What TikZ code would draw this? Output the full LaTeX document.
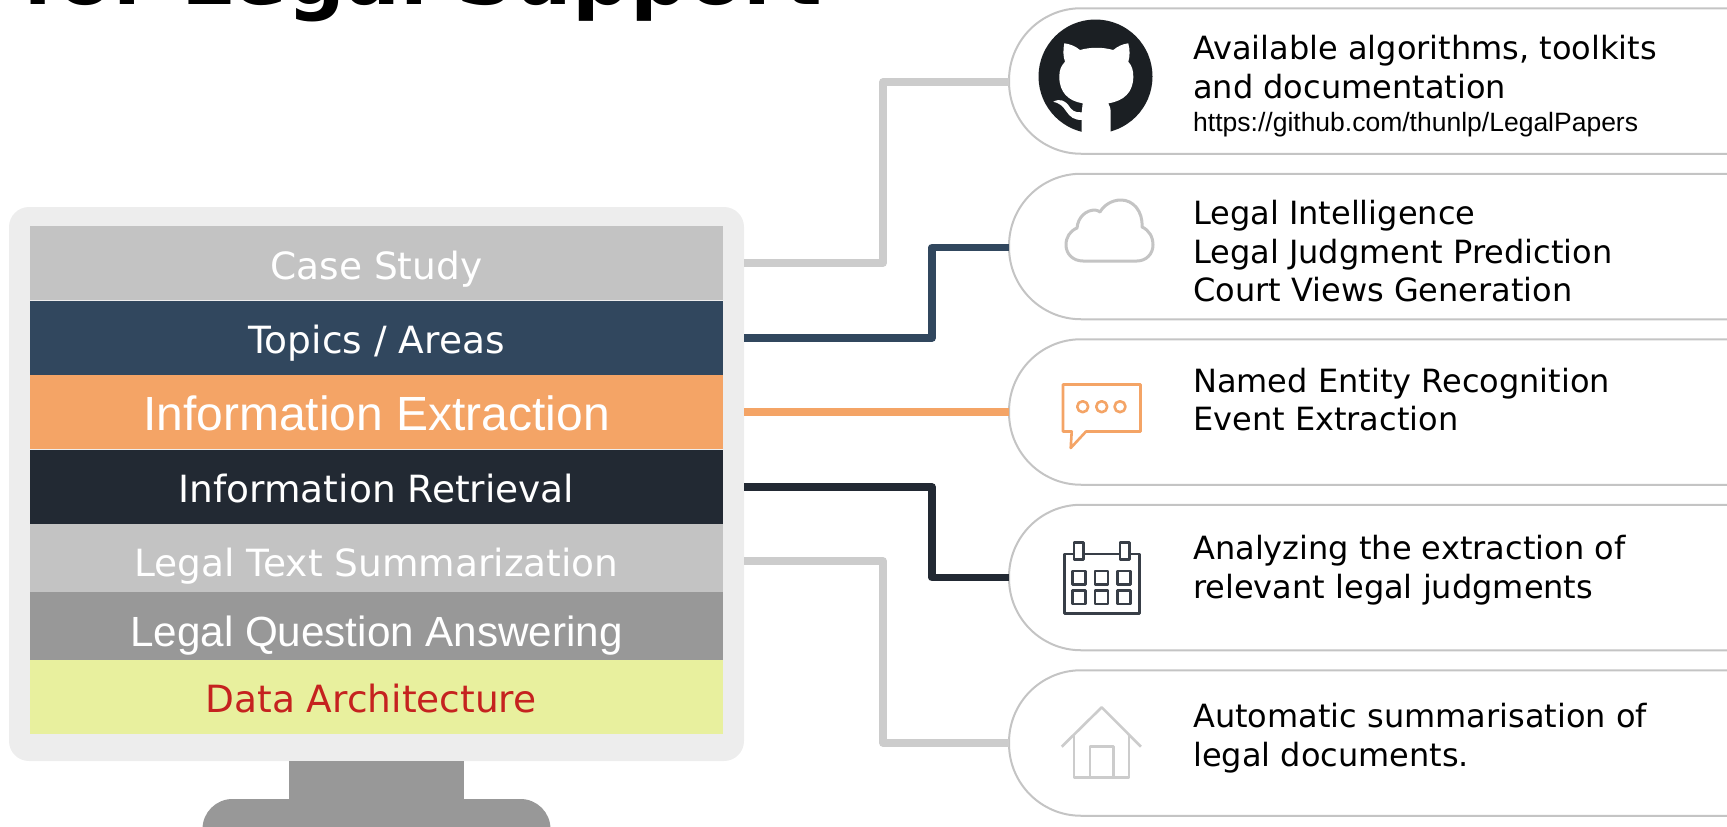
\documentclass[tikz,border=0pt]{standalone}
\usepackage{fontspec}
\usepackage{tikz}
\usetikzlibrary{positioning}
\setmainfont{DejaVu Sans}
\newfontfamily\arialfont{Liberation Sans}
\definecolor{rowgrey}{HTML}{C3C3C3}
\definecolor{rowblue}{HTML}{31475E}
\definecolor{roworange}{HTML}{F4A466}
\definecolor{rowdark}{HTML}{222933}
\definecolor{rowmid}{HTML}{989898}
\definecolor{rowlime}{HTML}{E8F09E}
\definecolor{rowred}{HTML}{C5221F}
\definecolor{bezelgrey}{HTML}{EDEDED}
\definecolor{pillgrey}{HTML}{C4C4C4}
\definecolor{wiregrey}{HTML}{CCCCCC}
\definecolor{catdark}{HTML}{1B1F23}

\begin{document}
\begin{tikzpicture}[x=1pt, y=-1pt, node distance=0pt, line join=round]
    % Styles
    \tikzstyle{rowbox}=[rectangle, inner sep=0pt, outer sep=0pt, minimum width=693pt, text=white, text depth=0pt, font=\fontsize{37.5}{44}\selectfont]
    \tikzstyle{arialrow}=[rowbox, font=\arialfont\fontsize{48}{56}\selectfont]
    \tikzstyle{pillbox}=[rectangle, draw=pillgrey, line width=2pt, outer sep=0pt, fill=white, rounded corners=72pt, minimum width=800pt, minimum height=145.5pt, anchor=west]
    \tikzstyle{itemtext}=[anchor=north west, inner sep=0pt, align=left, font=\fontsize{32}{38.5}\selectfont]
    \tikzstyle{wire}=[line width=7.5pt]
    \tikzstyle{standbox}=[rectangle, fill=rowmid, inner sep=0pt, outer sep=0pt]
    \tikzstyle{iconline}=[line width=2.6pt]

    \useasboundingbox (0,0) rectangle (1727,827);
    \clip (0,0) rectangle (1727,827);

    % Title, cut by the top edge
    \node (title) [anchor=base west, inner sep=0pt, font=\bfseries\fontsize{81}{96}\selectfont] at (22,4.5) {for Legal Support};

    % Monitor
    \node (bezel) [rectangle, fill=bezelgrey, outer sep=0pt, rounded corners=20pt, minimum width=735pt, minimum height=554pt] at (376.5,484) {};
    \node (neck) [standbox, minimum width=175pt, minimum height=38pt, below=of bezel] {};
    \node (foot) [standbox, rounded corners=30pt, minimum width=348pt, minimum height=100pt, below=of neck] {};

    % Rows of the screen
    \node (caseRow) [rowbox, fill=rowgrey, minimum height=74pt, text height=32pt] at (376.5,263) {Case Study};
    \node (topicRow) [rowbox, fill=rowblue, minimum height=74pt, text height=30.4pt, below=1pt of caseRow] {Topics / Areas};
    \node (extractRow) [arialrow, fill=roworange, minimum height=74pt, text height=37.5pt, below=of topicRow] {Information Extraction};
    \node (retrieveRow) [rowbox, fill=rowdark, minimum height=74pt, text height=30.4pt, below=1pt of extractRow] {Information Retrieval};
    \node (summaryRow) [rowbox, fill=rowgrey, minimum height=68pt, text height=36pt, below=of retrieveRow] {Legal Text Summarization};
    \node (answerRow) [arialrow, fill=rowmid, minimum height=68pt, text height=41pt, font=\arialfont\fontsize{42.2}{50}\selectfont, below=of summaryRow] {Legal Question Answering};
    \node (dataRow) [rowbox, fill=rowlime, minimum height=73.7pt, below=of answerRow] {};
    \node (dataText) [inner sep=0pt, text=rowred, font=\fontsize{37.5}{44}\selectfont] at (371,699) {Data Architecture};

    % Pills, running off the right edge
    \node (toolPill) [pillbox] at (1009,81) {};
    \node (legalPill) [pillbox, below=20pt of toolPill.south west, anchor=north west] {};
    \node (namedPill) [pillbox, below=20pt of legalPill.south west, anchor=north west] {};
    \node (judgePill) [pillbox, below=20pt of namedPill.south west, anchor=north west] {};
    \node (homePill) [pillbox, below=20pt of judgePill.south west, anchor=north west] {};

    % Texts in the pills
    \node (toolText) [itemtext] at (1193,35) {Available algorithms, toolkits \\ and documentation};
    \node (toolUrl) [anchor=base west, inner sep=0pt, font=\arialfont\fontsize{26.5}{32}\selectfont] at (1193,131) {https://github.com/thunlp/LegalPapers};
    \node (legalText) [itemtext] at (1193,200) {Legal Intelligence \\ Legal Judgment Prediction \\ Court Views Generation};
    \node (namedText) [itemtext] at (1193,367.5) {Named Entity Recognition \\ Event Extraction};
    \node (judgeText) [itemtext] at (1193,535) {Analyzing the extraction of \\ relevant legal judgments};
    \node (homeText) [itemtext] at (1193,703) {Automatic summarisation of \\ legal documents.};

    % Connectors
    \draw[wire, wiregrey] (bezel.east |- caseRow) -- ++(139,0) |- ([yshift=-1pt]toolPill.west);
    \draw[wire, rowblue] (bezel.east |- topicRow) -- ++(188,0) |- ([yshift=-1pt]legalPill.west);
    \draw[wire, roworange] (bezel.east |- extractRow) -- (namedPill.west);
    \draw[wire, rowdark] (bezel.east |- retrieveRow) -- ++(188,0) |- (judgePill.west);
    \draw[wire, wiregrey] ([yshift=-3pt]bezel.east |- summaryRow) -- ++(139,0) |- (homePill.west);

    % Cat mark
    \fill[catdark] (1095.5,76.5) circle [radius=57];
    \fill[white] (1081.7,135) -- (1081.7,120) .. controls (1074,120) and (1070,117) .. (1066,111) .. controls (1063,106) and (1059,103) .. (1053.3,101.7) .. controls (1060,98) and (1065,101) .. (1068.3,105) .. controls (1071,110) and (1075,113) .. (1081.7,112.3) -- (1082.7,103.3) .. controls (1068,101) and (1059.3,92) .. (1059.3,76.7) .. controls (1059.3,70) and (1061,66) .. (1065,61.7) .. controls (1063,56) and (1063,50) .. (1064.3,43.3) .. controls (1070,44) and (1075,46) .. (1080,50) .. controls (1091,47) and (1102,47) .. (1113.3,50) .. controls (1118,46) and (1123,44) .. (1128.3,43.3) .. controls (1130,50) and (1130,56) .. (1128.3,61.7) .. controls (1132,66) and (1133.3,70) .. (1133.3,76.7) .. controls (1133.3,92) and (1124,101) .. (1108.3,103.3) .. controls (1110,106) and (1110.7,109) .. (1110.7,113.3) -- (1110.7,135) -- cycle;

    % Cloud
    \draw[iconline, pillgrey, line width=3pt] (1083,261) .. controls (1073,261) and (1066,254) .. (1066,245) .. controls (1066,237) and (1070,231) .. (1077,228) .. controls (1078,217) and (1086,210) .. (1095,210) .. controls (1097,210) and (1098,211) .. (1100,212) .. controls (1104,205) and (1112,200) .. (1121,200) .. controls (1133,200) and (1143,211) .. (1142,227) .. controls (1149,230) and (1153,237) .. (1153,245) .. controls (1153,254) and (1146,261) .. (1137,261) -- cycle;

    % Speech bubble
    \draw[iconline, roworange] (1063,384.5) -- (1140.5,384.5) -- (1140.5,431.5) -- (1086,431.5) -- (1070.7,448) -- (1071.7,431.5) -- (1063,431.5) -- cycle;
    \foreach \x in {1082.7,1101.7,1120}
        \draw[iconline, roworange] (\x,406.7) circle [radius=5.5];

    % Calendar
    \draw[iconline, rowdark!90] (1074,554) -- (1064.5,554) -- (1064.5,613.3) -- (1139.3,613.3) -- (1139.3,554) -- (1129.3,554);
    \draw[iconline, rowdark!90] (1083.3,554) -- (1120,554);
    \foreach \x in {1074,1120}
        \draw[iconline, rowdark!90] (\x,542.3) rectangle ++(9.3,17);
    \foreach \x in {1072.3,1095,1117.7}
        \foreach \y in {571,590.7}
            \draw[iconline, rowdark!90] (\x,\y) rectangle ++(13,13.3);

    % House
    \draw[iconline, wiregrey] (1061.7,746.7) -- (1101.7,707.3) -- (1141,746.7);
    \draw[iconline, wiregrey] (1074,734) -- (1074,777.7) -- (1129,777.7) -- (1129,734);
    \draw[iconline, wiregrey] (1090,777.7) -- (1090,746.7) -- (1113.3,746.7) -- (1113.3,777.7);
\end{tikzpicture}
\end{document}
